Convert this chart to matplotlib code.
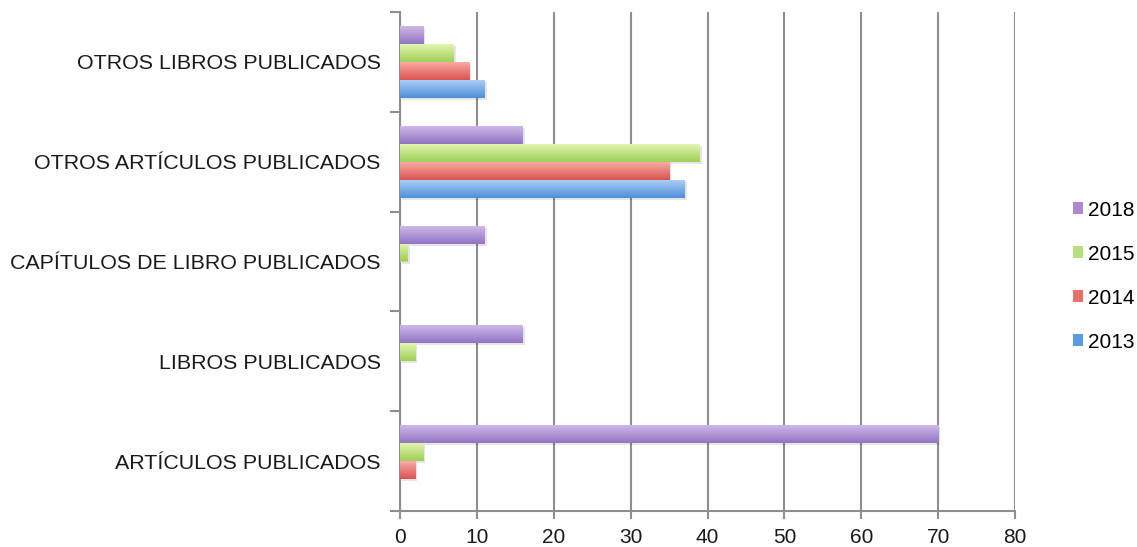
import numpy as np
import matplotlib
matplotlib.use("Agg")
import matplotlib.pyplot as plt
from matplotlib import patheffects
from matplotlib.colors import LinearSegmentedColormap
from matplotlib.patches import Patch

categories = [
    "ARTÍCULOS PUBLICADOS",
    "LIBROS PUBLICADOS",
    "CAPÍTULOS DE LIBRO PUBLICADOS",
    "OTROS ARTÍCULOS PUBLICADOS",
    "OTROS LIBROS PUBLICADOS",
]
years = ["2013", "2014", "2015", "2018"]
v2013 = [0, 0, 0, 37, 11]
v2014 = [2, 0, 0, 35, 9]
v2015 = [3, 2, 1, 39, 7]
v2018 = [70, 16, 11, 16, 3]
series = [v2013, v2014, v2015, v2018]

# (light top, dark bottom, legend swatch)
palette = [
    ("#a9cdf7", "#4f8fd6", "#5b9be0"),
    ("#fbaaa6", "#d9534f", "#e8706c"),
    ("#e2f5b0", "#9fd055", "#b6e07a"),
    ("#cdb8e8", "#9374c4", "#a68bd0"),
]

plt.rcParams["font.family"] = ["Liberation Sans", "DejaVu Sans"]
fig = plt.figure(figsize=(11.37, 5.47), dpi=100)
ax = fig.add_axes([400 / 1137, 36 / 547, 615 / 1137, 499 / 547])

grid_c = "#8e8e8e"
h = 0.18
offsets = [-0.27, -0.09, 0.09, 0.27]
y = np.arange(len(categories))

for vals, off, (c_top, c_bot, c_leg) in zip(series, offsets, palette):
    bars = ax.barh(y + off, vals, height=h, color=c_leg, zorder=3, linewidth=0)
    cmap = LinearSegmentedColormap.from_list("g", [c_bot, c_top])
    grad = np.linspace(0, 1, 64).reshape(-1, 1)
    for b in bars:
        w = b.get_width()
        if w <= 0:
            continue
        b.set_path_effects([patheffects.SimplePatchShadow(offset=(1.5, -1.5), shadow_rgbFace="#000000", alpha=0.1),
                            patheffects.Normal()])
        y0 = b.get_y()
        im = ax.imshow(grad, cmap=cmap, origin="lower", aspect="auto",
                       extent=(0, w, y0, y0 + b.get_height()), zorder=4,
                       interpolation="bilinear")
        im.set_clip_path(b)

ax.set_xlim(0, 80)
ax.set_ylim(-0.5, len(categories) - 0.5)
ax.set_xticks(np.arange(0, 81, 10))
ax.set_yticks(y)
ax.set_yticklabels(categories)
ax.set_yticks(np.arange(-0.5, len(categories), 1.0), minor=True)

ax.grid(axis="x", color=grid_c, linewidth=1.5, zorder=0)
ax.set_axisbelow(True)
for s in ["top", "right"]:
    ax.spines[s].set_visible(False)
for s in ["left", "bottom"]:
    ax.spines[s].set_color(grid_c)
    ax.spines[s].set_linewidth(1.5)

ax.tick_params(axis="y", which="major", length=0, pad=14, labelsize=15.4, labelcolor="#1a1a1a")
ax.tick_params(axis="y", which="minor", length=7, width=1.5, color=grid_c)
ax.tick_params(axis="x", which="major", length=6, width=1.5, color=grid_c, pad=6,
               labelsize=15, labelcolor="#1a1a1a")

handles = [Patch(facecolor=palette[i][2], edgecolor="none") for i in range(3, -1, -1)]
labels = [years[i] for i in range(3, -1, -1)]
fig.legend(handles, labels, loc="center left", bbox_to_anchor=(1073 / 1137, 271 / 547),
           frameon=False, fontsize=15, handlelength=0.5, handleheight=0.5,
           handletextpad=0.2, labelspacing=1.2, borderpad=0, borderaxespad=0)

fig.savefig("out.png", dpi=100)
